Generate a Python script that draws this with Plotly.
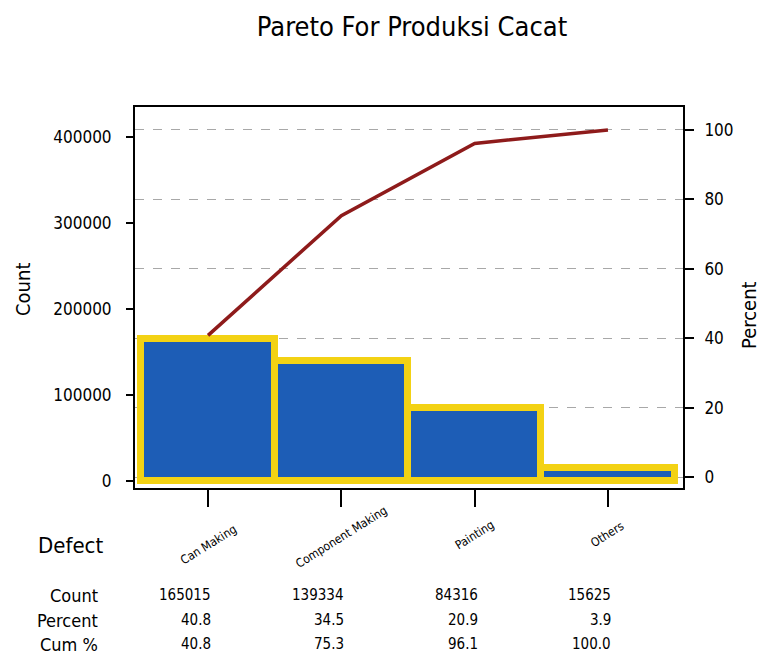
import plotly.graph_objects as go

categories = ["Can Making", "Component Making", "Painting", "Others"]
counts = [165015, 139334, 84316, 15625]
percents = [40.8, 34.5, 20.9, 3.9]
cum_percents = [40.8, 75.3, 96.1, 100.0]
count_ticks = [0, 100000, 200000, 300000, 400000]
percent_ticks = [0, 20, 40, 60, 80, 100]

FONT = "DejaVu Sans Condensed, Liberation Sans Narrow, Arial, sans-serif"
xpos = list(range(len(categories)))

fig = go.Figure()
fig.add_trace(go.Bar(
    x=xpos, y=counts,
    marker=dict(color="#1d5db6", line=dict(color="#f3d214", width=7)),
    width=1.0, showlegend=False,
))
fig.add_trace(go.Scatter(
    x=xpos, y=cum_percents, yaxis="y2", mode="lines",
    line=dict(color="#8e1b1b", width=3.5), showlegend=False,
))

fig.update_layout(
    width=762, height=659,
    margin=dict(l=135, r=79, t=107, b=171),
    paper_bgcolor="white", plot_bgcolor="white",
    font=dict(family=FONT, color="black", size=17),
    title=dict(text="Pareto For Produksi Cacat", x=412 / 762, xanchor="center",
               y=1 - 27 / 659, yanchor="middle", font=dict(size=27, family=FONT)),
    bargap=0,
    xaxis=dict(range=[-0.548, 3.563], tickvals=xpos, showticklabels=False,
               ticks="outside", ticklen=17, tickwidth=2, tickcolor="black",
               showline=True, linecolor="black", linewidth=2, mirror=True,
               showgrid=False, zeroline=False, automargin=False),
    yaxis=dict(range=[-8140, 434900], tickvals=count_ticks,
               ticktext=[str(v) for v in count_ticks],
               ticks="outside", ticklen=7, tickwidth=2, tickcolor="black",
               ticklabelstandoff=11,
               showline=True, linecolor="black", linewidth=2,
               showgrid=False, zeroline=False, automargin=False),
    yaxis2=dict(overlaying="y", side="right", range=[-3.17, 106.6],
                tickvals=percent_ticks, ticks="outside", ticklen=9, tickwidth=2,
                tickcolor="black", ticklabelstandoff=7,
                showline=True, linecolor="black", linewidth=2,
                showgrid=True, gridcolor="#a8a8a8", griddash="dash", gridwidth=1,
                zeroline=False, automargin=False),
)

anns = []
# axis titles
anns.append(dict(x=0, y=1, xref="paper", yref="paper", xshift=-112, yshift=-(290 - 107),
                 text="Count", showarrow=False, textangle=-90,
                 xanchor="center", yanchor="middle", font=dict(size=20, family=FONT)))
anns.append(dict(x=1, y=1, xref="paper", yref="paper", xshift=66, yshift=-(315 - 107),
                 text="Percent", showarrow=False, textangle=-90,
                 xanchor="center", yanchor="middle", font=dict(size=20, family=FONT)))
# category labels (rotated)
label_y = [-57, -49, -47, -46]
for i, c in enumerate(categories):
    anns.append(dict(x=i, y=0, xref="x", yref="paper", yshift=label_y[i],
                     text=c, showarrow=False, textangle=-32,
                     font=dict(size=12, family=FONT), xanchor="center", yanchor="middle"))
anns.append(dict(x=0, y=0, xref="paper", yref="paper", xshift=-65, yshift=-57,
                 text="Defect", showarrow=False, xanchor="center", yanchor="middle",
                 font=dict(size=22, family=FONT)))
rows = [("Count", [str(v) for v in counts], -107),
        ("Percent", [f"{v:.1f}" for v in percents], -132),
        ("Cum %", [f"{v:.1f}" for v in cum_percents], -156)]
for name, vals, ys in rows:
    anns.append(dict(x=0, y=0, xref="paper", yref="paper", xshift=-35, yshift=ys,
                     text=name, showarrow=False, xanchor="right", yanchor="middle",
                     font=dict(size=18, family=FONT)))
    for i, v in enumerate(vals):
        anns.append(dict(x=i, y=0, xref="x", yref="paper", xshift=5, yshift=ys,
                         text=v, showarrow=False, xanchor="right", yanchor="middle",
                         font=dict(size=15, family=FONT)))
fig.update_layout(annotations=anns)

fig.write_html("out.html", config={"displayModeBar": False},
               post_script="document.body.style.margin='0';")
